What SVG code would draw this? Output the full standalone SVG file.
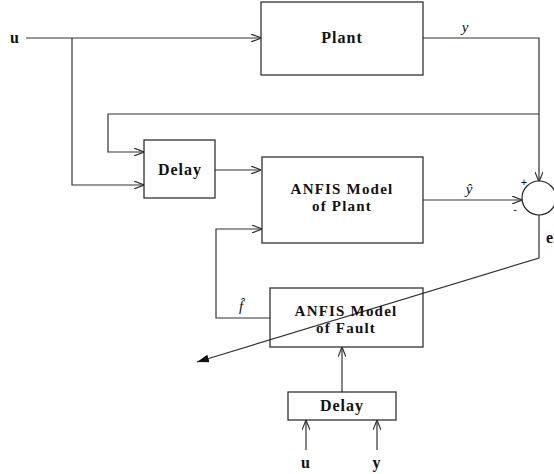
<svg xmlns="http://www.w3.org/2000/svg" width="554" height="474" viewBox="0 0 554 474">
<defs>
<style>
.box{fill:#fff;stroke:#222;stroke-width:1.2}
.ln{fill:none;stroke:#333;stroke-width:1.2}
.bt{font-family:"Liberation Serif","Times New Roman",serif;font-weight:bold;font-size:16px;letter-spacing:1px;fill:#111;text-anchor:middle}
.b2{font-size:15px;letter-spacing:1.2px}
.it{font-family:"Liberation Serif","Times New Roman",serif;font-style:italic;font-size:15px;fill:#111;text-anchor:middle}
.sm{font-family:"Liberation Sans",Arial,sans-serif;font-size:11px;fill:#111;text-anchor:middle}
</style>
<marker id="oa" viewBox="0 0 10 8" refX="10" refY="4" markerWidth="10" markerHeight="8" markerUnits="userSpaceOnUse" orient="auto">
<path d="M0,0 L10,4 L0,8" fill="none" stroke="#333" stroke-width="1.2"/>
</marker>
<marker id="fa" viewBox="0 0 12 8" refX="12" refY="4" markerWidth="12" markerHeight="8" markerUnits="userSpaceOnUse" orient="auto">
<path d="M0,0 L12,4 L0,8 Z" fill="#111"/>
</marker>
</defs>
<g id="connectors">
<path class="ln" d="M26,38 H261" marker-end="url(#oa)"/>
<path class="ln" d="M72,38 V185 H144" marker-end="url(#oa)"/>
<path class="ln" d="M539,114 H108 V152 H144" marker-end="url(#oa)"/>
<path class="ln" d="M215,170 H261" marker-end="url(#oa)"/>
<path class="ln" d="M423,38 H539 V182" marker-end="url(#oa)"/>
<path class="ln" d="M423,200 H522" marker-end="url(#oa)"/>
<path class="ln" d="M539,215 V258 L197,362" marker-end="url(#fa)"/>
<path class="ln" d="M270,318 H216 V229 H262" marker-end="url(#oa)"/>
<path class="ln" d="M342,392 V347" marker-end="url(#oa)"/>
<path class="ln" d="M306,450 V420" marker-end="url(#oa)"/>
<path class="ln" d="M377,450 V420" marker-end="url(#oa)"/>
</g>
<g id="plant">
<rect class="box" x="261" y="2" width="162" height="73"/>
<text class="bt" x="342" y="43">Plant</text>
</g>
<g id="delay1">
<rect class="box" x="144" y="140" width="71" height="58"/>
<text class="bt" x="180" y="175">Delay</text>
</g>
<g id="anfis-plant">
<rect class="box" x="262" y="157" width="161" height="86"/>
<text class="bt b2" x="342" y="194">ANFIS Model</text>
<text class="bt b2" x="342" y="211">of Plant</text>
</g>
<g id="anfis-fault">
<rect class="box" x="270" y="288" width="153" height="59" fill-opacity="0"/>
<text class="bt b2" x="346" y="316">ANFIS Model</text>
<text class="bt b2" x="346" y="333">of Fault</text>
</g>
<g id="delay2">
<rect class="box" x="288" y="392" width="108" height="28"/>
<text class="bt" x="342" y="411">Delay</text>
</g>
<g id="sum">
<circle cx="539" cy="198" r="17" fill="#fff" stroke="#222" stroke-width="1.2"/>
<text class="sm" x="524" y="186">+</text>
<text class="sm" x="515" y="213">-</text>
</g>
<g id="labels">
<text class="bt" x="15" y="43">u</text>
<text class="it" x="465" y="32">y</text>
<text class="it" x="469" y="194">ŷ</text>
<text class="it" x="241" y="311">f̂</text>
<text class="bt" x="546" y="243" style="text-anchor:start">e</text>
<text class="bt" x="306" y="468">u</text>
<text class="bt" x="377" y="468">y</text>
</g>
</svg>
